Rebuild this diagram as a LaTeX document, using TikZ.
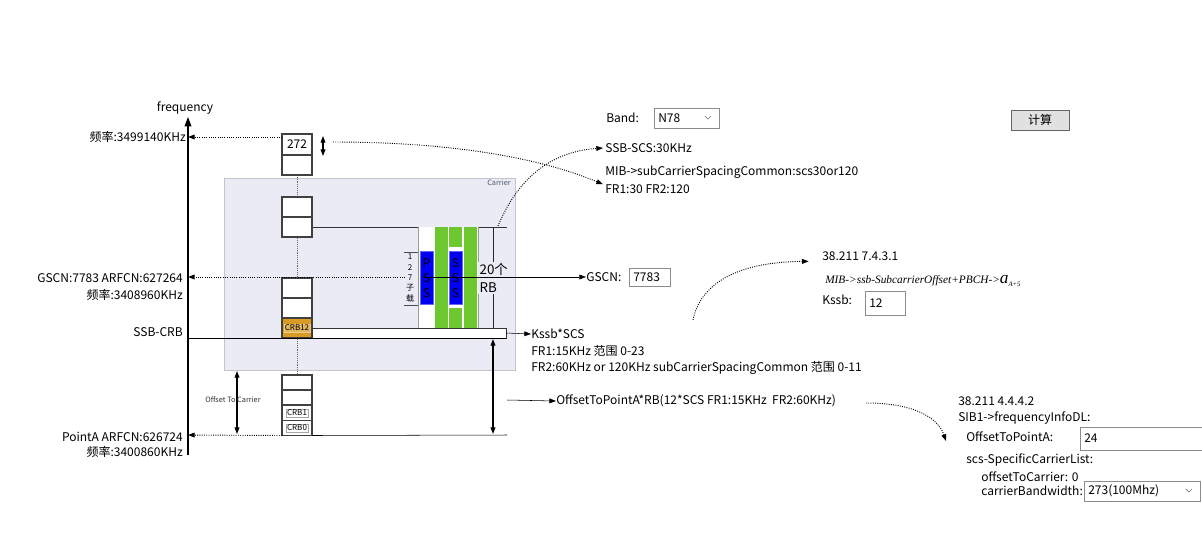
\documentclass[tikz,border=0pt]{standalone}
\usepackage{fontspec}
\setmainfont{Noto Sans CJK SC}
\newfontfamily\mibfont{Liberation Serif}
\usepackage{tikz}
\usetikzlibrary{positioning, arrows.meta}

\definecolor{carrierbg}{HTML}{EBEBF5}
\definecolor{carrierline}{HTML}{C4C4CC}
\definecolor{labelgray}{HTML}{505A6E}
\definecolor{ssbgreen}{HTML}{6DC72F}
\definecolor{ssbblue}{HTML}{0000F2}
\definecolor{crbgold}{HTML}{D99B24}
\definecolor{btngray}{HTML}{E1E1E1}

\tikzset{
  txt/.style={inner sep=0pt, anchor=west},
  ltxt/.style={inner sep=0pt, anchor=east},
  rb/.style={draw=black!75, line width=0.9pt, fill=white, minimum width=22.5pt,
    minimum height=15pt, inner sep=0pt, outer sep=0pt},
  lowrb/.style={rb, minimum height=11.25pt},
  tag/.style={draw=black!35, fill=white, inner sep=0.8pt, font=\fontsize{6}{6}\selectfont},
  field/.style={draw=black!45, fill=white, anchor=west, inner xsep=3pt, inner ysep=0pt, align=left},
  tiny/.style={inner sep=0pt, font=\fontsize{5.5}{6}\selectfont},
  sync/.style={draw=ssbblue!60, fill=ssbblue, minimum width=9.75pt, minimum height=39.75pt,
    inner sep=0pt, align=center, font=\fontsize{9}{11.25}\selectfont},
  dots/.style={densely dotted, line width=0.7pt},
}

\begin{document}
\begin{tikzpicture}[x=0.75pt, y=-0.75pt, font=\fontsize{9}{11}\selectfont,
  >={Triangle[length=5pt, width=3.6pt]}]
\useasboundingbox (0,0) rectangle (1202,540);

% carrier area
\draw[carrierline, fill=carrierbg] (224,178) rectangle (515,370);
\node[tiny, text=labelgray, anchor=north east] (carrierlbl) at (511,180) {Carrier};

% frequency axis
\draw[line width=1.1pt, -{Triangle[length=7pt, width=5pt]}] (188,455) -- (188,117);
\node[inner sep=0pt] (freq) at (185,108) {frequency};
\coordinate (ax272) at (188,137);
\coordinate (axgscn) at (188,277);
\coordinate (axcrb) at (188,338);
\coordinate (axpa) at (188,435);

% RB column
\draw[densely dotted, black!60] (297,175) -- (297,375);
\draw[black!80] (297,227) -- (507,227);
\node[rb, minimum height=15.75pt] (c272) at (297,144.5) {272};
\node[rb] (c271) at (297,165) {};
\node[rb] (ca) at (297,207) {};
\node[rb] (cb) at (297,227) {};
\node[rb] (cc) at (297,288) {};
\node[rb] (cd) at (297,308) {};
\node[rb, fill=crbgold] (crb12) at (297,328) {};
\node[tag, fill=crbgold!75!white, draw=crbgold!50!white] (crb12txt) at (crb12) {CRB12};
\node[lowrb] (ce) at (297,382.5) {};
\node[lowrb] (cf) at (297,397.5) {};
\node[lowrb] (crb1) at (297,413) {};
\node[lowrb] (crb0) at (297,428) {};
\node[tag] (crb1txt) at (crb1) {CRB1};
\node[tag] (crb0txt) at (crb0) {CRB0};

% SSB block
\fill[white] (418,227) rectangle (478,328);
\draw[black!40] (418,227) -- (418,328) (478,227) -- (478,328);
\fill[ssbgreen] (435,227) rectangle (448,328);
\fill[ssbgreen] (449,227) rectangle (462,247);
\fill[ssbgreen] (449,308) rectangle (462,328);
\fill[ssbgreen] (464,227) rectangle (477,328);
\node[sync] (pss) at (426.5,278) {P\\S\\S};
\node[sync] (sss) at (455.5,278) {S\\S\\S};
\draw[black!70] (404,252) -- (418,252) (404,305) -- (418,305);
\node[tiny, align=center, font=\fontsize{6}{7.7}\selectfont] (sc127) at (410,278) {1\\2\\7\\子\\载};

% 20 RB
\draw[black!85] (493,227) -- (493,328);
\node[fill=carrierbg, inner sep=1pt, anchor=west, align=left,
  font=\fontsize{10}{13}\selectfont] (rb20) at (478,278) {20个\\RB};
\coordinate (rbtop) at (498,226);

% kssb bar
\node[draw=black!80, fill=white, minimum width=145.5pt, minimum height=7.5pt,
  inner sep=0pt, outer sep=0pt, anchor=south west] (kbar) at (312,338) {};
\draw (axcrb) -- (kbar.south east);

% left labels
\node[ltxt] (f272) at (186,137) {频率:3499140KHz};
\node[ltxt] (gscnlbl) at (183,278) {GSCN:7783 ARFCN:627264};
\node[ltxt, below=12.75pt of gscnlbl.east, anchor=east] (fgscn) {频率:3408960KHz};
\node[ltxt] (ssbcrb) at (183,332) {SSB-CRB};
\node[ltxt] (pointa) at (183,437) {PointA ARFCN:626724};
\node[ltxt, below=11.5pt of pointa.east, anchor=east] (fpa) {频率:3400860KHz};

% dotted guides to the axis
\draw[dots, ->] (c272.west |- ax272) -- (ax272);
\coordinate (gscnfrom) at (405,277);
\draw[dots, ->] (gscnfrom) -- (axgscn);
\draw[dots, ->] (crb0.south west) -- (axpa);
\draw (crb0.south east) -- (507,435);

% offsets
\coordinate (otctop) at (237,371);
\coordinate (otcbot) at (237,434);
\draw[<->, line width=0.8pt] (otctop) -- (otcbot);
\node[tiny, text=black!80] (otc) at (233,400) {Offset To Carrier};
\coordinate (ptatop) at (493,339);
\coordinate (ptabot) at (493,434);
\draw[<->, line width=0.9pt] (ptatop) -- (ptabot);
\draw[<->, line width=0.8pt] (323,136) -- (323,156);
\coordinate (rbmark) at (333,142);

% right side texts
\node[txt] (band) at (606,118) {Band:};
\node[field, text width=42.75pt, minimum height=15pt] (bandbox) at (654,118) {N78};
\draw[black!55] ([xshift=-11pt, yshift=1.5pt]bandbox.east) -- ++(3,3) -- ++(3,-3);
\node[draw=black!60, fill=btngray, minimum width=43.5pt, minimum height=15pt,
  inner sep=0pt] (calc) at (1040,120) {计算};

\node[txt] (sscs) at (605,148) {SSB-SCS:30KHz};
\node[txt] (mib) at (605,172) {MIB->subCarrierSpacingCommon:scs30or120};
\node[txt, below=12.75pt of mib.west, anchor=west] (fr1) {FR1:30 FR2:120};

\node[txt] (gscn) at (586,277) {GSCN:};
\node[field, text width=24.75pt, minimum height=13.5pt] (gscnbox) at (629,277) {7783};
\draw[->] (423,277) -- (gscn.west);

\node[txt] (kssb) at (531,334) {Kssb*SCS};
\node[txt, below=12.75pt of kssb.west, anchor=west] (kfr1) {FR1:15KHz 范围 0-23};
\node[txt, below=12.75pt of kfr1.west, anchor=west] (kfr2) {FR2:60KHz or 120KHz subCarrierSpacingCommon 范围 0-11};
\draw[->] (kbar.east) -- (kssb.west);

\node[txt] (ofs) at (556,401) {OffsetToPointA*RB(12*SCS FR1:15KHz\ \ FR2:60KHz)};
\draw[->] (507,400) -- (ofs.west);

\node[txt] (ref7) at (822,256) {38.211 7.4.3.1};
\node[txt, font=\fontsize{8.5}{10}\selectfont] (mibk) at (825,281)
  {\mibfont\itshape MIB->ssb-SubcarrierOffset+PBCH->{\fontsize{13}{13}\selectfont a}\raisebox{-2pt}{\fontsize{5}{5}\selectfont A+5}};
\node[txt] (kssblbl) at (822,300) {Kssb:};
\node[field, text width=24pt, minimum height=18pt] (kssbbox) at (865,303) {12};

\node[txt] (ref4) at (958,401) {38.211 4.4.4.2};
\node[txt, below=12.75pt of ref4.west, anchor=west] (sib1) {SIB1->frequencyInfoDL:};
\node[txt] (ofsa) at (966,437) {OffsetToPointA:};
\node[field, text width=120pt, minimum height=17.25pt] (ofsabox) at (1080,438.5) {24};
\node[txt] (scslist) at (966,460) {scs-SpecificCarrierList:};
\node[txt] (otcval) at (981,477) {offsetToCarrier: 0};
\node[txt, below=10.5pt of otcval.west, anchor=west] (cbw) {carrierBandwidth:};
\node[field, text width=81pt, minimum height=15pt] (cbwbox) at (1084,491) {273(100Mhz)};
\draw[black!55] ([xshift=-11pt, yshift=1.5pt]cbwbox.east) -- ++(3,3) -- ++(3,-3);

% dotted hints
\draw[dots, ->] (rbtop) .. controls (515,185) and (545,152) .. ([xshift=-1.5pt]sscs.west);
\draw[dots, ->] (rbmark) .. controls (460,142) and (545,160) .. ([xshift=-1.5pt]fr1.north west);
\coordinate (kssbcurve) at (693,320);
\draw[dots, ->] (kssbcurve) .. controls (700,285) and (735,262) .. ([xshift=-10pt, yshift=-4pt]ref7.west);
\coordinate (ofscurve) at (866,403);
\draw[dots, ->] (ofscurve) .. controls (915,403) and (938,418) .. ([xshift=-15pt, yshift=-3pt]ofsa.west);
\end{tikzpicture}
\end{document}
